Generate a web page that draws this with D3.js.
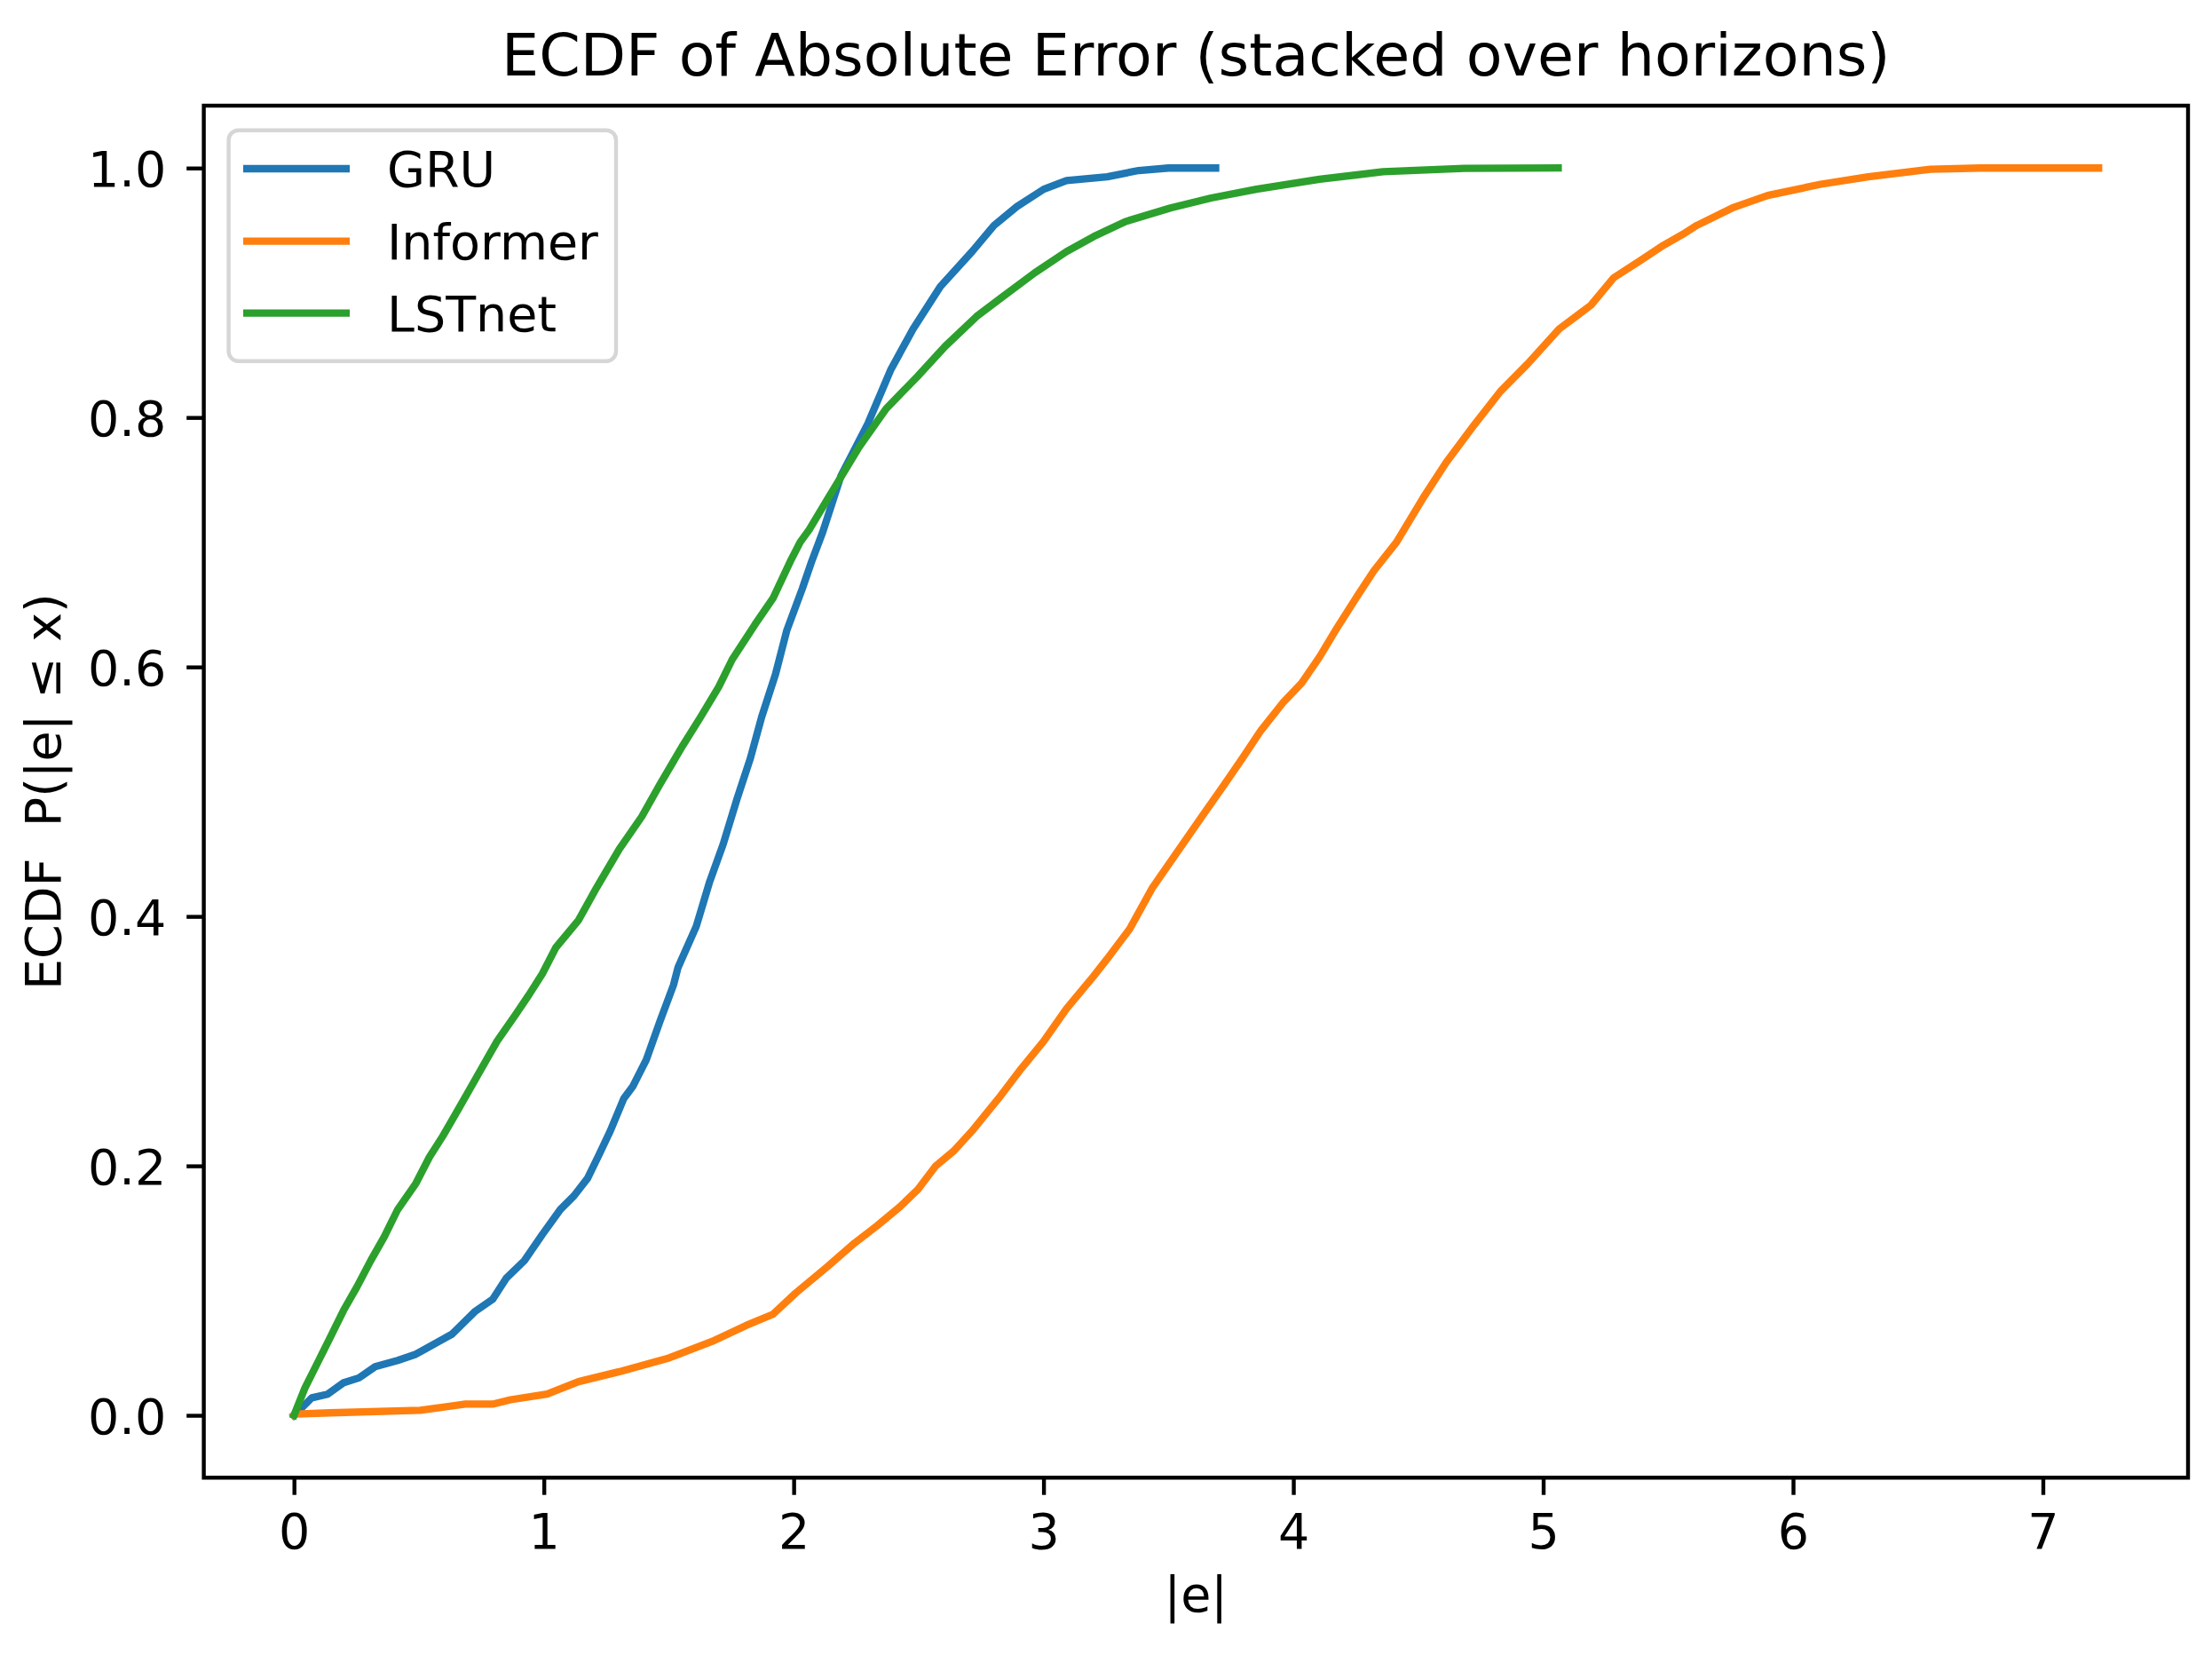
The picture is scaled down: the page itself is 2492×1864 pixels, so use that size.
<!DOCTYPE html>
<html>
<head>
<meta charset="utf-8">
<script src="https://cdn.jsdelivr.net/npm/d3@7/dist/d3.min.js"></script>
<style>
  html, body { margin: 0; padding: 0; background: #ffffff; }
  svg { display: block; }
  text { font-family: "DejaVu Sans", sans-serif; fill: #000; }
</style>
</head>
<body>
<svg id="chart" width="2492" height="1864"></svg>
<script>
// ---- Data ----
const seriesNames = ["GRU", "Informer", "LSTnet"];
const seriesColors = ["#1f77b4", "#ff7f0e", "#2ca02c"];

const gruX = [0, 0.016, 0.071, 0.135, 0.197, 0.26, 0.325, 0.415, 0.488, 0.578, 0.632, 0.723, 0.795, 0.850, 0.922, 0.994, 1.066, 1.121, 1.175, 1.221, 1.266, 1.320, 1.357, 1.41, 1.465, 1.519, 1.537, 1.61, 1.664, 1.718, 1.773, 1.827, 1.872, 1.927, 1.972, 2.035, 2.071, 2.116, 2.189, 2.297, 2.388, 2.478, 2.587, 2.714, 2.802, 2.893, 3.001, 3.092, 3.255, 3.381, 3.50, 3.689];
const gruY = [0, 0.003, 0.014, 0.017, 0.026, 0.030, 0.039, 0.044, 0.049, 0.059, 0.065, 0.083, 0.093, 0.110, 0.124, 0.145, 0.165, 0.176, 0.190, 0.209, 0.228, 0.254, 0.264, 0.285, 0.316, 0.345, 0.359, 0.392, 0.428, 0.458, 0.494, 0.527, 0.560, 0.594, 0.629, 0.663, 0.684, 0.708, 0.753, 0.795, 0.838, 0.871, 0.905, 0.933, 0.954, 0.969, 0.983, 0.990, 0.993, 0.998, 1.0, 1.0];

const informerX = [0, 0.008, 0.144, 0.506, 0.686, 0.795, 0.867, 1.013, 1.139, 1.302, 1.501, 1.682, 1.809, 1.917, 2.008, 2.134, 2.243, 2.334, 2.424, 2.497, 2.569, 2.641, 2.714, 2.820, 2.911, 3.001, 3.092, 3.200, 3.255, 3.345, 3.436, 3.526, 3.634, 3.725, 3.797, 3.870, 3.961, 4.033, 4.105, 4.177, 4.250, 4.322, 4.413, 4.521, 4.612, 4.720, 4.829, 4.938, 5.064, 5.191, 5.282, 5.390, 5.481, 5.568, 5.615, 5.757, 5.899, 6.111, 6.301, 6.549, 6.75, 7.223];
const informerY = [0, 0.001, 0.002, 0.004, 0.009, 0.009, 0.0125, 0.017, 0.027, 0.035, 0.046, 0.060, 0.072, 0.081, 0.098, 0.119, 0.138, 0.152, 0.167, 0.181, 0.200, 0.212, 0.228, 0.254, 0.278, 0.300, 0.326, 0.352, 0.366, 0.390, 0.423, 0.449, 0.480, 0.506, 0.527, 0.549, 0.572, 0.587, 0.608, 0.632, 0.655, 0.677, 0.700, 0.736, 0.764, 0.793, 0.821, 0.843, 0.871, 0.890, 0.912, 0.926, 0.938, 0.948, 0.954, 0.968, 0.978, 0.987, 0.993, 0.999, 1.0, 1.0];

const lstnetX = [0, 0.044, 0.099, 0.144, 0.198, 0.252, 0.307, 0.361, 0.415, 0.488, 0.542, 0.596, 0.651, 0.705, 0.759, 0.813, 0.886, 0.940, 0.994, 1.048, 1.139, 1.211, 1.302, 1.392, 1.465, 1.556, 1.628, 1.700, 1.754, 1.845, 1.917, 1.990, 2.026, 2.062, 2.134, 2.261, 2.370, 2.496, 2.606, 2.732, 2.838, 2.965, 3.092, 3.200, 3.327, 3.508, 3.671, 3.852, 4.105, 4.359, 4.684, 5.060];
const lstnetY = [0, 0.022, 0.044, 0.062, 0.084, 0.103, 0.124, 0.143, 0.165, 0.186, 0.207, 0.224, 0.243, 0.262, 0.281, 0.300, 0.321, 0.337, 0.354, 0.375, 0.397, 0.423, 0.454, 0.480, 0.506, 0.537, 0.560, 0.584, 0.606, 0.634, 0.655, 0.686, 0.700, 0.710, 0.734, 0.776, 0.807, 0.833, 0.857, 0.881, 0.897, 0.916, 0.933, 0.945, 0.957, 0.968, 0.976, 0.983, 0.991, 0.997, 0.9997, 1.0];

const xTicks = [0, 1, 2, 3, 4, 5, 6, 7];
const yTicks = [0.0, 0.2, 0.4, 0.6, 0.8, 1.0];

const titleText = "ECDF of Absolute Error (stacked over horizons)";
const xLabelText = "|e|";
const yLabelText = "ECDF  P(|e| \u2264 x)";

// ---- Layout ----
const plotLeft = 229.6, plotRight = 2465, plotTop = 119, plotBottom = 1664.3;
const svg = d3.select("#chart");

const x = d3.scaleLinear().domain([-0.361, 7.581]).range([plotLeft, plotRight]);
const y = d3.scaleLinear().domain([-0.05, 1.05]).range([plotBottom, plotTop]);

const series = [
  { name: seriesNames[0], color: seriesColors[0], xs: gruX, ys: gruY },
  { name: seriesNames[1], color: seriesColors[1], xs: informerX, ys: informerY },
  { name: seriesNames[2], color: seriesColors[2], xs: lstnetX, ys: lstnetY }
];

const fs = 55.5;

// Lines
const line = d3.line().x(d => x(d[0])).y(d => y(d[1]));
const gLines = svg.append("g");
series.forEach(s => {
  const pts = s.xs.map((v, i) => [v, s.ys[i]]);
  gLines.append("path")
    .datum(pts)
    .attr("d", line)
    .attr("fill", "none")
    .attr("stroke", s.color)
    .attr("stroke-width", 8.3)
    .attr("stroke-linejoin", "round")
    .attr("stroke-linecap", "square");
});

// Axes
const xAxis = d3.axisBottom(x).tickValues(xTicks).tickFormat(d3.format("d"))
  .tickSize(19.4).tickPadding(20.5);
const gx = svg.append("g").attr("transform", `translate(0,${plotBottom})`).call(xAxis);
gx.select(".domain").remove();
gx.selectAll(".tick line").attr("stroke", "#000").attr("stroke-width", 4.4);
gx.selectAll(".tick text").style("font-size", fs + "px").style("font-family", "DejaVu Sans").attr("fill", "#000");

const yAxis = d3.axisLeft(y).tickValues(yTicks).tickFormat(d3.format(".1f"))
  .tickSize(19.4).tickPadding(23);
const gy = svg.append("g").attr("transform", `translate(${plotLeft},0)`).call(yAxis);
gy.select(".domain").remove();
gy.selectAll(".tick line").attr("stroke", "#000").attr("stroke-width", 4.4);
gy.selectAll(".tick text").style("font-size", fs + "px").style("font-family", "DejaVu Sans").attr("fill", "#000").attr("dy", "0.36em");

// Spines
svg.append("rect")
  .attr("x", plotLeft).attr("y", plotTop)
  .attr("width", plotRight - plotLeft).attr("height", plotBottom - plotTop)
  .attr("fill", "none").attr("stroke", "#000").attr("stroke-width", 4.4);

// Title and labels
svg.append("text")
  .attr("x", (plotLeft + plotRight) / 2).attr("y", 85)
  .attr("text-anchor", "middle")
  .style("font-size", "66.7px")
  .text(titleText);

svg.append("text")
  .attr("x", (plotLeft + plotRight) / 2).attr("y", 1815)
  .attr("text-anchor", "middle")
  .style("font-size", fs + "px")
  .text(xLabelText);

svg.append("text")
  .attr("transform", `translate(68,${(plotTop + plotBottom) / 2}) rotate(-90)`)
  .attr("text-anchor", "middle")
  .style("font-size", fs + "px")
  .style("white-space", "pre")
  .text(yLabelText);

// Legend
const legend = svg.append("g");
legend.append("rect")
  .attr("x", 257.6).attr("y", 146.7)
  .attr("width", 436.4).attr("height", 260)
  .attr("rx", 11).attr("ry", 11)
  .attr("fill", "#ffffff").attr("fill-opacity", 0.8)
  .attr("stroke", "#d6d6d6").attr("stroke-width", 4.4);

const legendRowY = [190, 271.7, 352.7];
series.forEach((s, i) => {
  legend.append("line")
    .attr("x1", 274).attr("x2", 394)
    .attr("y1", legendRowY[i]).attr("y2", legendRowY[i])
    .attr("stroke", s.color).attr("stroke-width", 8.3);
  legend.append("text")
    .attr("x", 436).attr("y", legendRowY[i] + 20)
    .style("font-size", fs + "px")
    .text(s.name);
});
</script>
</body>
</html>
